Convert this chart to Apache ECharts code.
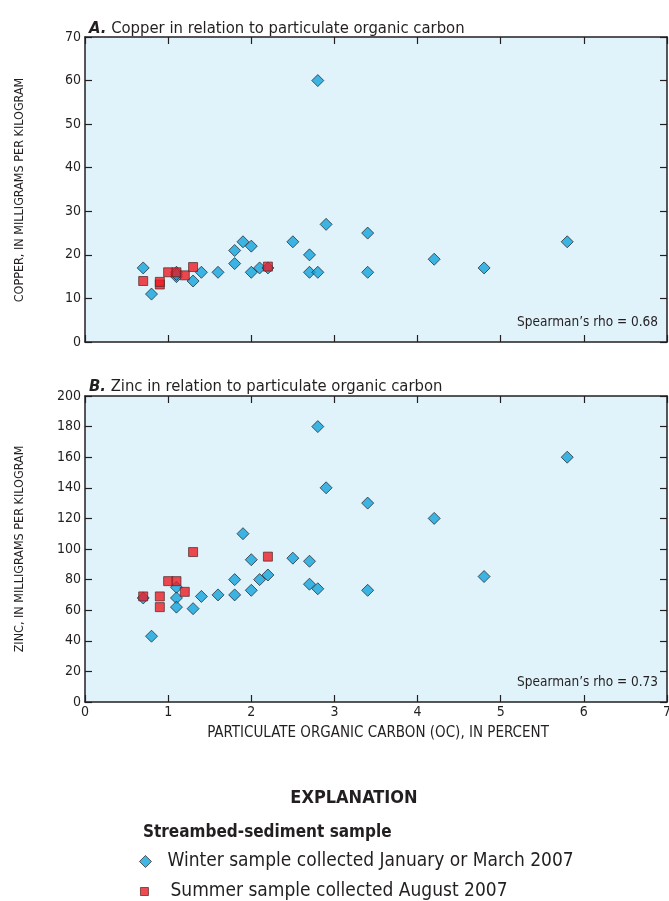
<!DOCTYPE html>
<html>
<head>
<meta charset="utf-8">
<script src="https://cdn.jsdelivr.net/npm/echarts@6/dist/echarts.min.js"></script>
<style>
html,body{margin:0;padding:0;background:#fff;}
#c{width:669px;height:901px;}
</style>
</head>
<body>
<div id="c"></div>
<script>
// ---- Data ----
const xTicks = [0, 1, 2, 3, 4, 5, 6, 7];
const copperTicks = [0, 10, 20, 30, 40, 50, 60, 70];
const zincTicks = [0, 20, 40, 60, 80, 100, 120, 140, 160, 180, 200];

// Panel A: copper (mg/kg) vs particulate organic carbon (%)
const copperWinter = [
  [0.7, 17], [0.8, 11], [1.1, 16], [1.1, 15], [1.1, 15.5], [1.3, 14], [1.4, 16], [1.6, 16],
  [1.8, 18], [1.8, 21], [1.9, 23], [2.0, 22], [2.0, 16], [2.1, 17], [2.2, 17],
  [2.5, 23], [2.7, 20], [2.7, 16], [2.8, 16], [2.8, 60], [2.9, 27], [3.4, 16],
  [3.4, 25], [4.2, 19], [4.8, 17], [5.8, 23]
];
const copperSummer = [
  [0.7, 14], [0.9, 13.2], [0.9, 13.8], [1.0, 16], [1.1, 16], [1.2, 15.3], [1.3, 17.2], [2.2, 17.3]
];

// Panel B: zinc (mg/kg) vs particulate organic carbon (%)
const zincWinter = [
  [0.7, 68], [0.8, 43], [1.1, 75], [1.1, 68], [1.1, 62], [1.3, 61], [1.4, 69], [1.6, 70],
  [1.8, 70], [1.8, 80], [1.9, 110], [2.0, 93], [2.0, 73], [2.1, 80], [2.2, 83],
  [2.5, 94], [2.7, 92], [2.7, 77], [2.8, 74], [2.8, 180], [2.9, 140], [3.4, 73],
  [3.4, 130], [4.2, 120], [4.8, 82], [5.8, 160]
];
const zincSummer = [
  [0.7, 69], [0.9, 69], [0.9, 62], [1.0, 79], [1.1, 79], [1.2, 72], [1.3, 98], [2.2, 95]
];

const rhoCopper = "Spearman\u2019s rho = 0.68";
const rhoZinc = "Spearman\u2019s rho = 0.73";
const winterName = "Winter sample collected January or March 2007";
const summerName = "Summer sample collected August 2007";

// ---- Styles ----
const FONT = '"Liberation Sans Narrow", "DejaVu Sans Condensed", "Roboto Condensed", sans-serif';
const INK = '#231f20';
const BLUE = '#12a3dd';
const RED = '#ec1c24';
const BG = '#e1f3fa';

const chart = echarts.init(document.getElementById('c'), null, {renderer: 'canvas'});

function xAx(grid, pos, labels, ticks) {
  return {
    type: 'value', gridIndex: grid, position: pos,
    min: ticks[0], max: ticks[ticks.length - 1], interval: 1,
    axisLine: {show: true, onZero: false, lineStyle: {color: INK, width: 1.5}},
    axisTick: {show: true, inside: true, length: 7, lineStyle: {color: INK, width: 1.2}},
    axisLabel: {show: labels, color: INK, fontFamily: FONT, fontSize: 14, margin: 3},
    splitLine: {show: false}
  };
}
function yAx(grid, pos, labels, ticks, step) {
  return {
    type: 'value', gridIndex: grid, position: pos,
    min: ticks[0], max: ticks[ticks.length - 1], interval: step,
    axisLine: {show: true, onZero: false, lineStyle: {color: INK, width: 1.5}},
    axisTick: {show: true, inside: true, length: 7, lineStyle: {color: INK, width: 1.2}},
    axisLabel: {show: labels, color: INK, fontFamily: FONT, fontSize: 14, margin: 4},
    splitLine: {show: false}
  };
}

const diamondStyle = {color: BLUE, borderColor: INK, borderWidth: 0.9};
const squareStyle = {color: RED, borderColor: '#4a2a2a', borderWidth: 0.9};

function legendFor(name, icon, style, top, left, size, pad) {
  return {
    left: left, top: top, orient: 'horizontal',
    itemWidth: size, itemHeight: size, selectedMode: false,
    textStyle: {fontFamily: FONT, fontSize: 19, color: INK, padding: [0, 0, 0, pad]},
    data: [{name: name, icon: icon, itemStyle: style}]
  };
}

chart.setOption({
  animation: false,
  backgroundColor: '#fff',
  grid: [
    {left: 85, top: 37, width: 582, height: 305, show: true, backgroundColor: BG, borderWidth: 0,
     containLabel: false, outerBoundsMode: 'none'},
    {left: 85, top: 396, width: 582, height: 306, show: true, backgroundColor: BG, borderWidth: 0,
     containLabel: false, outerBoundsMode: 'none'}
  ],
  xAxis: [
    xAx(0, 'bottom', false, xTicks),
    xAx(0, 'top', false, xTicks),
    xAx(1, 'bottom', true, xTicks),
    xAx(1, 'top', false, xTicks)
  ],
  yAxis: [
    yAx(0, 'left', true, copperTicks, 10),
    yAx(0, 'right', false, copperTicks, 10),
    yAx(1, 'left', true, zincTicks, 20),
    yAx(1, 'right', false, zincTicks, 20)
  ],
  legend: [
    legendFor(winterName, 'diamond', {color: BLUE, borderColor: INK, borderWidth: 0.9}, 847, 134, 12, 11),
    legendFor(summerName, 'rect', {color: RED, borderColor: '#4a2a2a', borderWidth: 0.9}, 877, 135, 8, 17)
  ],
  title: [
    {text: '{b|A.} Copper in relation to particulate organic carbon', left: 84, top: 15,
     textStyle: {fontFamily: FONT, fontSize: 16.5, fontWeight: 'normal', color: INK,
       rich: {b: {fontFamily: FONT, fontSize: 16.5, fontWeight: 'bold', fontStyle: 'italic', color: INK}}}},
    {text: '{b|B.} Zinc in relation to particulate organic carbon', left: 84, top: 373,
     textStyle: {fontFamily: FONT, fontSize: 16.5, fontWeight: 'normal', color: INK,
       rich: {b: {fontFamily: FONT, fontSize: 16.5, fontWeight: 'bold', fontStyle: 'italic', color: INK}}}}
  ],
  graphic: [
    {type: 'text', x: 20, y: 190, rotation: Math.PI / 2,
     style: {text: 'COPPER, IN MILLIGRAMS PER KILOGRAM', fontFamily: FONT, fontSize: 12.5, fill: INK, align: 'center', verticalAlign: 'middle'}},
    {type: 'text', x: 20, y: 549, rotation: Math.PI / 2,
     style: {text: 'ZINC, IN MILLIGRAMS PER KILOGRAM', fontFamily: FONT, fontSize: 12.5, fill: INK, align: 'center', verticalAlign: 'middle'}},
    {type: 'text', x: 378, y: 733,
     style: {text: 'PARTICULATE ORGANIC CARBON (OC), IN PERCENT', fontFamily: FONT, fontSize: 15, fill: INK, align: 'center', verticalAlign: 'middle'}},
    {type: 'text', x: 658, y: 322, z: 10,
     style: {text: rhoCopper, fontFamily: FONT, fontSize: 13.5, fill: INK, align: 'right', verticalAlign: 'middle'}},
    {type: 'text', x: 658, y: 682, z: 10,
     style: {text: rhoZinc, fontFamily: FONT, fontSize: 13.5, fill: INK, align: 'right', verticalAlign: 'middle'}},
    {type: 'text', x: 354, y: 798,
     style: {text: 'EXPLANATION', fontFamily: FONT, fontSize: 18, fontWeight: 'bold', fill: INK, align: 'center', verticalAlign: 'middle'}},
    {type: 'text', x: 143, y: 833,
     style: {text: 'Streambed-sediment sample', fontFamily: FONT, fontSize: 17, fontWeight: 'bold', fill: INK, align: 'left', verticalAlign: 'middle'}}
  ],
  series: [
    {name: winterName, type: 'scatter', xAxisIndex: 0, yAxisIndex: 0, data: copperWinter,
     symbol: 'diamond', symbolSize: 12, itemStyle: diamondStyle, z: 2},
    {name: summerName, type: 'scatter', xAxisIndex: 0, yAxisIndex: 0, data: copperSummer,
     symbol: 'rect', symbolSize: 9, itemStyle: squareStyle, z: 3},
    {name: winterName, type: 'scatter', xAxisIndex: 2, yAxisIndex: 2, data: zincWinter,
     symbol: 'diamond', symbolSize: 12, itemStyle: diamondStyle, z: 2},
    {name: summerName, type: 'scatter', xAxisIndex: 2, yAxisIndex: 2, data: zincSummer,
     symbol: 'rect', symbolSize: 9, itemStyle: squareStyle, z: 3}
  ]
});
</script>
</body>
</html>
